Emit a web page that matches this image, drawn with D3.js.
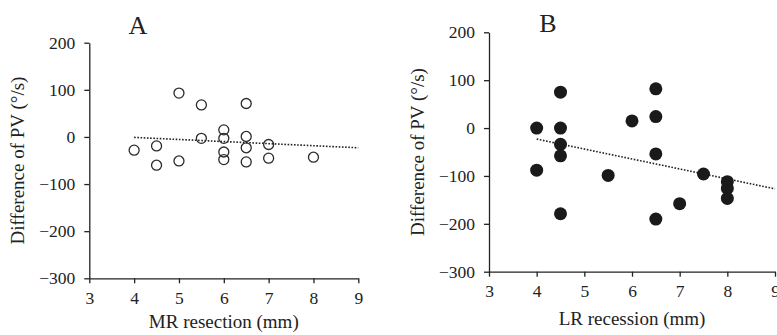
<!DOCTYPE html>
<html>
<head>
<meta charset="utf-8">
<script src="https://cdn.jsdelivr.net/npm/d3@7"></script>
<style>
  body { margin: 0; background: #fff; }
  svg { display: block; }
  text { font-family: "Liberation Serif", "DejaVu Serif", serif; fill: #222; }
</style>
</head>
<body>
<script>
// panel A: MR resection vs difference of PV
const mrX = [4, 4.5, 4.5, 5, 5, 5.5, 5.5, 6, 6, 6, 6, 6.5, 6.5, 6.5, 6.5, 7, 7, 8];
const mrY = [-28, -19, -60, 93, -51, 68, -3, 15, -3, -32, -48, 71, 1, -23, -53, -16, -45, -43];
const mrFitX = [4, 9];
const mrFitY = [-1, -23];

// panel B: LR recession vs difference of PV
const lrX = [4, 4, 4.5, 4.5, 4.5, 4.5, 4.5, 5.5, 6, 6.5, 6.5, 6.5, 6.5, 7, 7.5, 8, 8, 8];
const lrY = [0, -88, 75, 0, -34, -58, -179, -99, 15, 82, 24, -54, -190, -158, -96, -112, -126, -147];
const lrFitX = [4, 9];
const lrFitY = [-23, -127];

const xTicks = [3, 4, 5, 6, 7, 8, 9];
const yTicks = [200, 100, 0, -100, -200, -300];
const yTitle = "Difference of PV (°/s)";

const width = 777, height = 335;
const serif = '"Liberation Serif", "DejaVu Serif", serif';

const svg = d3.create("svg")
  .attr("width", width)
  .attr("height", height);

function panel(opt) {
  const x = d3.scaleLinear().domain([3, 9]).range([opt.left, opt.right]);
  const y = d3.scaleLinear().domain([-300, 200]).range([opt.bottom, opt.top]);
  const g = svg.append("g");

  // axes
  const gx = g.append("g")
    .attr("transform", `translate(0,${opt.bottom})`)
    .call(d3.axisBottom(x).tickValues(xTicks).tickFormat(d3.format("d"))
      .tickSizeInner(5).tickSizeOuter(0).tickPadding(8));
  const gy = g.append("g")
    .attr("transform", `translate(${opt.left},0)`)
    .call(d3.axisLeft(y).tickValues(yTicks).tickFormat(d3.format("d"))
      .tickSizeInner(5).tickSizeOuter(0).tickPadding(9));
  [gx, gy].forEach(a => {
    a.attr("font-family", null).attr("font-size", null);
    a.selectAll("path, line").attr("stroke", "#222").attr("stroke-width", 1.3);
    a.selectAll("text")
      .style("font-family", serif)
      .style("font-size", "17.5px")
      .attr("fill", "#222");
  });

  // trend line
  const fit = opt.fitX.map((v, i) => [v, opt.fitY[i]]);
  g.append("path")
    .attr("d", d3.line().x(d => x(d[0])).y(d => y(d[1]))(fit))
    .attr("fill", "none")
    .attr("stroke", "#222")
    .attr("stroke-width", 1.6)
    .attr("stroke-dasharray", "1.6,1.6");

  // points
  const pts = opt.xs.map((v, i) => [v, opt.ys[i]]);
  g.append("g").selectAll("circle")
    .data(pts)
    .join("circle")
    .attr("cx", d => x(d[0]))
    .attr("cy", d => y(d[1]))
    .attr("r", opt.filled ? 6.5 : 5)
    .attr("fill", opt.filled ? "#1a1a1a" : "none")
    .attr("stroke", opt.filled ? "none" : "#2a2a2a")
    .attr("stroke-width", 1.3);

  // titles
  g.append("text")
    .attr("x", (opt.left + opt.right) / 2)
    .attr("y", opt.xTitleY)
    .attr("text-anchor", "middle")
    .style("font-size", "19px")
    .text(opt.xTitle);
  g.append("text")
    .attr("transform", `translate(${opt.yTitleX},${(opt.top + opt.bottom) / 2}) rotate(-90)`)
    .attr("text-anchor", "middle")
    .style("font-size", "19px")
    .text(yTitle);
  g.append("text")
    .attr("x", opt.letterX)
    .attr("y", opt.letterY)
    .attr("text-anchor", "middle")
    .style("font-size", "26px")
    .text(opt.letter);
}

panel({
  left: 89.3, right: 358.3, top: 42.7, bottom: 278.3,
  xs: mrX, ys: mrY, fitX: mrFitX, fitY: mrFitY, filled: false,
  xTitle: "MR resection (mm)", xTitleY: 328, yTitleX: 24,
  letter: "A", letterX: 138, letterY: 34
});

panel({
  left: 489, right: 775, top: 32.3, bottom: 271.7,
  xs: lrX, ys: lrY, fitX: lrFitX, fitY: lrFitY, filled: true,
  xTitle: "LR recession (mm)", xTitleY: 325, yTitleX: 424,
  letter: "B", letterX: 548, letterY: 31.7
});

document.body.appendChild(svg.node());
</script>
</body>
</html>
